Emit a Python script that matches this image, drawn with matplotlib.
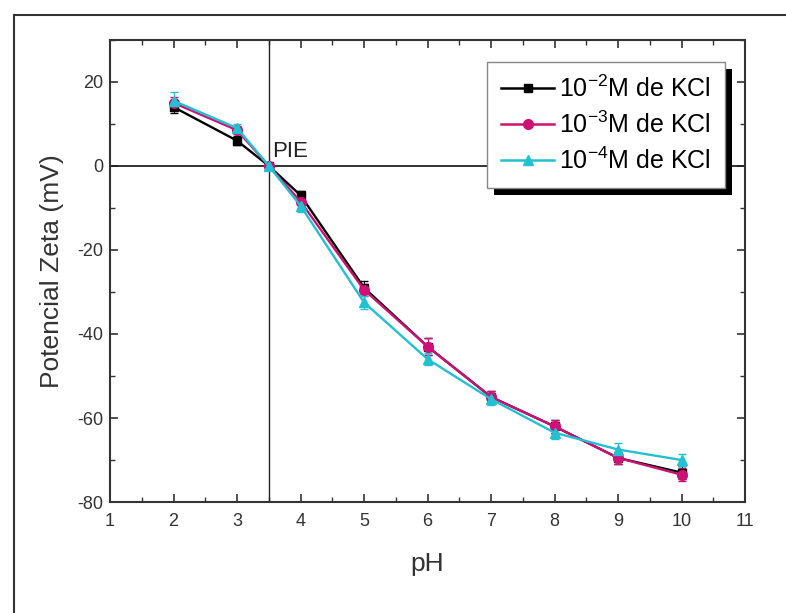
import matplotlib
matplotlib.use('Agg')
import matplotlib.pyplot as plt
from matplotlib.lines import Line2D
from matplotlib.patches import Rectangle
from matplotlib.ticker import MultipleLocator

plt.rcParams['font.family'] = ['Liberation Sans', 'DejaVu Sans']
plt.rcParams['mathtext.fontset'] = 'custom'
plt.rcParams['mathtext.rm'] = 'Liberation Sans'
plt.rcParams['axes.unicode_minus'] = False

# zeta potential vs pH for three KCl concentrations
ph = [2, 3, 3.5, 4, 5, 6, 7, 8, 9, 10]
zeta_1e2 = [14, 6, 0, -7, -29, -43, -55, -62, -69.5, -73]
zeta_1e3 = [15, 8.5, 0, -8.5, -29.5, -43, -55, -62, -69.5, -73.5]
zeta_1e4 = [15.5, 9, 0, -9.5, -32.5, -46, -55.5, -63.5, -67.5, -70]
err_1e2 = [1.5, 1, 0.5, 1, 1.5, 2, 1.5, 1.5, 1.5, 1.5]
err_1e3 = [1.5, 1, 0.5, 1.5, 1.5, 2, 1.5, 1.5, 1.5, 1.5]
err_1e4 = [2, 1, 0.5, 1.5, 1.5, 1.5, 1.5, 1.5, 1.5, 1.5]
labels = ['10$^{-2}$M de KCl', '10$^{-3}$M de KCl', '10$^{-4}$M de KCl']
pie = 3.5

fig = plt.figure(figsize=(7.86, 6.13), dpi=100)
ax = fig.add_axes([0.140, 0.181, 0.808, 0.754])

series = [
    (zeta_1e2, err_1e2, 'black', 's', 6),
    (zeta_1e3, err_1e3, '#cc1177', 'o', 7),
    (zeta_1e4, err_1e4, '#22c0d0', '^', 7),
]
handles = []
for (vals, err, col, mk, ms), lab in zip(series, labels):
    ax.errorbar(ph, vals, yerr=err, color=col, marker=mk, markersize=ms,
                linewidth=1.7, elinewidth=0.8, capsize=3, zorder=3)
    handles.append(Line2D([], [], color=col, marker=mk, markersize=ms,
                          linewidth=1.8, label=lab))

ax.axhline(0, color='#222222', linewidth=1.3, zorder=2)
ax.axvline(pie, color='#222222', linewidth=1.0, zorder=2)
ax.text(pie + 0.06, 2.0, 'PIE', fontsize=16, color='#222222')

ax.set_xlim(1, 11)
ax.set_ylim(-80, 30)
ax.xaxis.set_major_locator(MultipleLocator(1))
ax.xaxis.set_minor_locator(MultipleLocator(0.5))
ax.yaxis.set_major_locator(MultipleLocator(20))
ax.yaxis.set_minor_locator(MultipleLocator(10))
ax.tick_params(which='both', direction='in', top=True, right=True,
               labelsize=13, colors='#333333')
ax.tick_params(which='major', length=6, width=1.2)
ax.tick_params(which='minor', length=3.5, width=1.0)
ax.tick_params(axis='x', which='major', pad=8)
ax.tick_params(axis='y', which='major', pad=5)
for s in ax.spines.values():
    s.set_linewidth(1.5)
    s.set_color('#333333')

ax.set_xlabel('pH', fontsize=19, color='#333333', labelpad=16)
ax.set_ylabel('Potencial Zeta (mV)', fontsize=19, color='#333333', labelpad=9)

leg = ax.legend(handles=handles, loc='upper left', bbox_to_anchor=(0.594, 0.953),
                fontsize=18, frameon=True, fancybox=False, framealpha=1,
                handlelength=2.1, handletextpad=0.2, borderpad=0.56,
                labelspacing=0.38, borderaxespad=0)
leg.get_frame().set_edgecolor('#888888')
leg.get_frame().set_facecolor('white')
leg.get_frame().set_linewidth(1.0)
leg.set_zorder(6)

# solid black drop shadow under the legend box
fig.canvas.draw()
bb = leg.get_window_extent().transformed(fig.transFigure.inverted())
dx, dy = 7 / 786, 7 / 613
shadow = Rectangle((bb.x0 + dx, bb.y0 - dy), bb.width, bb.height,
                   transform=fig.transFigure, facecolor='black', edgecolor='none',
                   zorder=5.5, clip_on=False)
ax.add_artist(shadow)

# outer frame around the figure (left and top edges)
top = 1 - 15 / 613
fig.add_artist(Line2D([14 / 786, 14 / 786], [0, top],
                      transform=fig.transFigure, color='#333333', linewidth=1.5))
fig.add_artist(Line2D([14 / 786, 1.0], [top, top],
                      transform=fig.transFigure, color='#333333', linewidth=1.5))

fig.savefig('out.png', dpi=100)
